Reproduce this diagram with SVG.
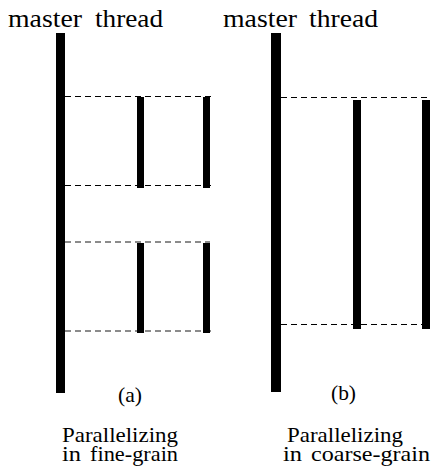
<svg xmlns="http://www.w3.org/2000/svg" width="437" height="468" viewBox="0 0 437 468">
  <style>
    .lbl { font-family: "Liberation Serif", "DejaVu Serif", serif; fill: #000; }
    .title { font-size: 25px; }
    .cap { font-size: 22px; }
    .bar { fill: #000; }
    .sync { stroke: #000; stroke-width: 1; stroke-dasharray: 6 4; fill: none; }
    .sync.grey { stroke: #666; stroke-width: 1.5; }
  </style>
  <rect width="437" height="468" fill="#fff"/>

  <!-- connectors: synchronisation points -->
  <g id="connectors">
    <line class="sync" x1="65" y1="96.5" x2="213" y2="96.5"/>
    <line class="sync" x1="65" y1="185.5" x2="213" y2="185.5"/>
    <line class="sync grey" x1="65" y1="242" x2="210" y2="242"/>
    <line class="sync grey" x1="65" y1="331" x2="213" y2="331"/>
    <line class="sync" x1="281" y1="97.5" x2="428" y2="97.5"/>
    <line class="sync" x1="281" y1="324.5" x2="428" y2="324.5"/>
  </g>

  <!-- (a) fine-grain -->
  <g id="master-a">
    <text class="lbl title" y="27"><tspan x="8" textLength="74" lengthAdjust="spacingAndGlyphs">master</tspan><tspan x="95" textLength="68" lengthAdjust="spacingAndGlyphs">thread</tspan></text>
    <rect class="bar" x="56" y="33" width="9" height="360"/>
  </g>
  <g id="thread-a1"><rect class="bar" x="137" y="97" width="7" height="91"/></g>
  <g id="thread-a2"><rect class="bar" x="203" y="97" width="7" height="91"/></g>
  <g id="thread-a3"><rect class="bar" x="137" y="243" width="7" height="90"/></g>
  <g id="thread-a4"><rect class="bar" x="203" y="243" width="7" height="90"/></g>
  <g id="caption-a">
    <text class="lbl cap" x="118" y="402" textLength="24" lengthAdjust="spacingAndGlyphs">(a)</text>
    <text class="lbl cap" x="62" y="442" textLength="116" lengthAdjust="spacingAndGlyphs">Parallelizing</text>
    <text class="lbl cap" y="461"><tspan x="62" textLength="19" lengthAdjust="spacingAndGlyphs">in</tspan><tspan x="90" textLength="88" lengthAdjust="spacingAndGlyphs">fine-grain</tspan></text>
  </g>

  <!-- (b) coarse-grain -->
  <g id="master-b">
    <text class="lbl title" y="27"><tspan x="223" textLength="74" lengthAdjust="spacingAndGlyphs">master</tspan><tspan x="309" textLength="69" lengthAdjust="spacingAndGlyphs">thread</tspan></text>
    <rect class="bar" x="271" y="33" width="10" height="359"/>
  </g>
  <g id="thread-b1"><rect class="bar" x="353" y="100" width="8" height="229"/></g>
  <g id="thread-b2"><rect class="bar" x="422" y="100" width="8" height="229"/></g>
  <g id="caption-b">
    <text class="lbl cap" x="331" y="400" textLength="25" lengthAdjust="spacingAndGlyphs">(b)</text>
    <text class="lbl cap" x="287" y="442" textLength="116" lengthAdjust="spacingAndGlyphs">Parallelizing</text>
    <text class="lbl cap" y="461"><tspan x="283" textLength="19" lengthAdjust="spacingAndGlyphs">in</tspan><tspan x="311" textLength="119" lengthAdjust="spacingAndGlyphs">coarse-grain</tspan></text>
  </g>
</svg>
